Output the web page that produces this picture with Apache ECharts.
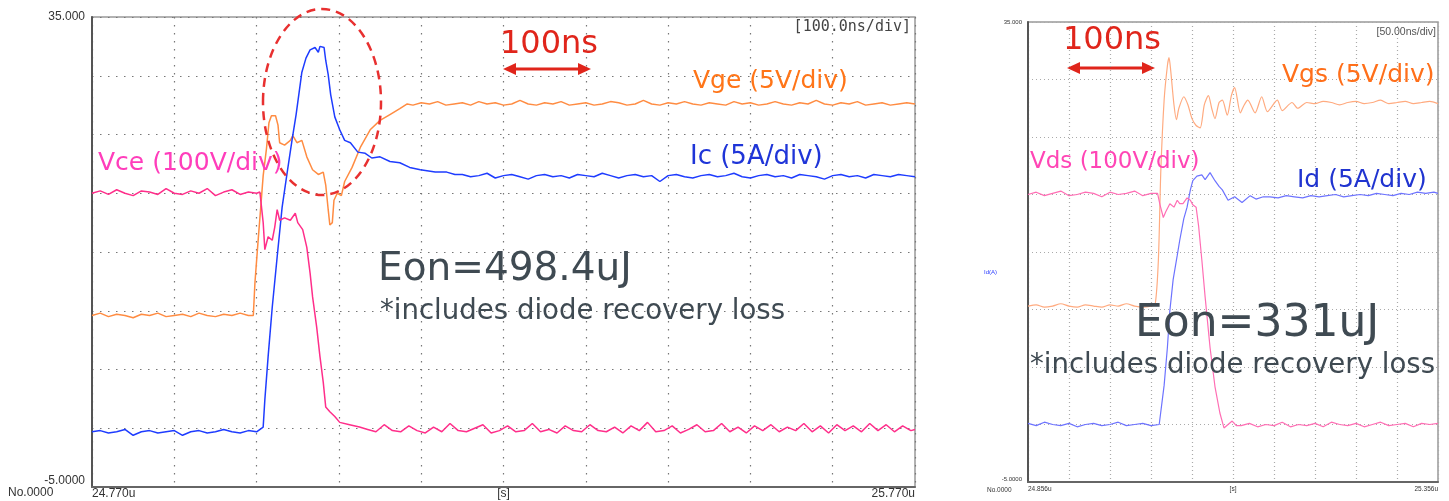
<!DOCTYPE html>
<html>
<head>
<meta charset="utf-8">
<title>Turn-on switching waveforms</title>
<script src="https://cdn.jsdelivr.net/npm/echarts@6.0.0/dist/echarts.min.js"></script>
<style>
  html, body { margin: 0; padding: 0; background: #fff; }
  #main { width: 1449px; height: 501px; }
</style>
</head>
<body>
<div id="main"></div>
<script>
// left scope shot (100ns/div): [ns after 24.770us, value on the 5/div scale]
var vce = [
  [0,20.0],[10,20.2],[20,19.9],[30,20.3],[40,20.0],[50,19.8],[60,20.2],[70,20.1],[80,19.9],[90,20.4],
  [100,20.0],[110,19.9],[120,20.2],[130,20.0],[140,20.4],[150,19.8],[160,20.1],[170,20.3],[180,19.9],[190,20.1],
  [200,20.0],[204,20.1],[208,17.5],[210,15.2],[214,16.3],[219,16.0],[222,17.1],[225,18.6],[228,17.7],[234,17.9],
  [241,17.7],[247,18.3],[250,17.5],[256,16.9],[261,15.4],[265,13.2],[268,11.2],[273,8.6],[277,6.1],[281,3.9],
  [284,1.8],[289,1.4],[295,1.0],[301,0.5],[313,0.3],[325,0.1],
  [335,-0.1],[345,-0.3],[355,0.3],[365,-0.2],[375,-0.3],[385,0.2],[395,-0.2],[405,-0.4],[415,0.1],[425,-0.3],
  [435,0.4],[445,-0.2],[455,-0.3],[465,0.0],[475,0.3],[485,-0.4],[495,-0.2],[505,0.2],[515,-0.3],[525,-0.2],
  [535,0.4],[545,-0.3],[555,-0.1],[565,-0.4],[575,0.2],[585,-0.2],[595,-0.3],[605,0.3],[615,-0.2],[625,-0.3],
  [635,0.1],[645,-0.4],[655,0.2],[665,-0.2],[675,0.5],[685,-0.3],[695,-0.2],[705,0.2],[715,-0.4],[725,-0.1],
  [735,0.3],[745,-0.3],[755,-0.2],[765,0.4],[775,-0.3],[785,0.1],[795,-0.4],[805,0.2],[815,-0.2],[825,0.3],
  [835,-0.3],[845,0.1],[855,-0.2],[865,0.4],[875,-0.3],[885,0.2],[895,-0.4],[905,0.3],[915,-0.2],[925,0.2],
  [935,-0.3],[945,0.4],[955,-0.2],[965,0.3],[975,-0.3],[985,0.2],[995,-0.2],[1000,-0.1]
];
var vge = [
  [0,9.6],[10,9.8],[20,9.5],[30,9.7],[40,9.6],[50,9.4],[60,9.7],[70,9.6],[80,9.8],[90,9.5],
  [100,9.6],[110,9.7],[120,9.5],[130,9.8],[140,9.6],[150,9.5],[160,9.7],[170,9.6],[180,9.8],[190,9.6],
  [196,9.6],[198,12.4],[201,15.2],[205,18.8],[208,21.5],[212,23.8],[215,26.0],[218,26.6],[223,26.6],[226,25.8],
  [228,24.3],[234,24.1],[241,24.5],[244,24.9],[249,24.3],[255,24.5],[261,23.1],[268,22.0],[275,21.6],[281,21.8],
  [284,20.7],[287,18.6],[289,17.3],[292,17.5],[294,19.4],[298,20.0],[303,19.8],[307,21.0],[316,22.2],[326,23.9],
  [338,25.4],[350,26.2],[362,26.7],[374,27.2],[383,27.6],
  [390,27.5],[400,27.7],[410,27.6],[420,27.8],[430,27.5],[440,27.6],[450,27.7],[460,27.5],[470,27.8],[480,27.6],
  [490,27.7],[500,27.5],[510,27.6],[520,27.9],[530,27.6],[540,27.5],[550,27.7],[560,27.6],[570,27.8],[580,27.5],
  [590,27.6],[600,27.7],[610,27.5],[620,27.6],[630,27.8],[640,27.7],[650,27.5],[660,27.6],[670,27.9],[680,27.6],
  [690,27.5],[700,27.7],[710,27.6],[720,27.8],[730,27.6],[740,27.5],[750,27.7],[760,27.6],[770,27.5],[780,27.8],
  [790,27.6],[800,27.7],[810,27.5],[820,27.6],[830,27.8],[840,27.6],[850,27.5],[860,27.7],[870,27.6],[880,27.9],
  [890,27.6],[900,27.5],[910,27.7],[920,27.6],[930,27.8],[940,27.5],[950,27.6],[960,27.7],[970,27.5],[980,27.6],
  [990,27.7],[1000,27.6]
];
var ic = [
  [0,-0.3],[10,-0.2],[20,-0.4],[30,-0.3],[40,-0.1],[50,-0.6],[60,-0.3],[70,-0.2],[80,-0.4],[90,-0.3],
  [100,-0.2],[110,-0.6],[120,-0.3],[130,-0.2],[140,-0.4],[150,-0.3],[160,-0.1],[170,-0.3],[180,-0.4],[190,-0.2],
  [200,-0.3],[208,0.1],[210,2.4],[214,6.1],[219,10.3],[225,14.6],[231,18.8],[237,21.7],[243,24.5],[248,26.7],
  [255,30.3],[260,31.5],[265,32.2],[271,32.4],[275,32.0],[277,32.5],[282,32.4],[284,31.3],[287,30.1],[290,28.4],
  [295,26.5],[301,25.4],[307,24.5],[314,24.3],[323,23.5],[332,23.4],[340,23.0],[350,23.1],[362,22.7],[374,22.6],
  [386,22.2],[399,22.0],[417,21.8],[431,21.8],[441,21.6],
  [450,21.6],[460,21.4],[470,21.5],[480,21.7],[490,21.3],[500,21.5],[510,21.6],[520,21.4],[530,21.2],[540,21.5],
  [550,21.6],[560,21.4],[570,21.5],[580,21.3],[590,21.6],[600,21.5],[610,21.4],[620,21.7],[630,21.5],[640,21.3],
  [650,21.5],[660,21.6],[670,21.4],[680,21.5],[690,21.0],[700,21.5],[710,21.6],[720,21.4],[730,21.3],[740,21.5],
  [750,21.6],[760,21.4],[770,21.5],[780,21.7],[790,21.4],[800,21.3],[810,21.5],[820,21.6],[830,21.4],[840,21.5],
  [850,21.3],[860,21.6],[870,21.5],[880,21.4],[890,21.2],[900,21.5],[910,21.6],[920,21.4],[930,21.5],[940,21.3],
  [950,21.6],[960,21.5],[970,21.4],[980,21.6],[990,21.5],[1000,21.4]
];

// right scope shot (50ns/div): [ns after 24.856us, value on the 5/div scale]
var vds = [
  [0,20.0],[10,20.2],[20,19.9],[30,20.1],[40,20.3],[50,19.9],[60,20.0],[70,20.2],[80,20.1],[90,19.8],
  [100,20.2],[110,20.0],[120,20.1],[130,20.3],[140,19.9],[150,20.1],[158,20.1],[161,19.1],[165,18.0],[168,18.5],
  [173,19.2],[178,18.9],[182,19.5],[185,19.2],[189,19.2],[194,19.7],[198,19.5],[201,19.1],[205,18.9],[208,17.3],
  [212,14.3],[216,11.1],[222,6.7],[228,3.3],[234,1.0],[239,-0.3],[244,0.0],[249,0.3],[254,-0.1],
  [260,-0.1],[270,0.1],[280,-0.2],[290,0.0],[300,-0.1],[310,0.2],[320,-0.2],[330,0.0],[340,-0.1],[350,0.1],
  [360,-0.2],[370,0.2],[380,0.0],[390,-0.1],[400,0.1],[410,-0.2],[420,0.0],[430,0.2],[440,-0.1],[450,0.0],
  [460,0.1],[470,-0.2],[480,0.1],[490,0.0],[500,0.1]
];
var vgs = [
  [0,10.3],[10,10.4],[20,10.2],[30,10.3],[40,10.5],[50,10.3],[60,10.2],[70,10.4],[80,10.3],[90,10.2],
  [100,10.4],[110,10.3],[120,10.5],[130,10.3],[140,10.2],[150,10.3],[155,10.4],[159,14.3],[162,22.1],[166,28.2],
  [170,31.2],[172,31.9],[174,30.8],[178,27.8],[181,26.5],[184,27.5],[190,28.5],[195,27.8],[200,26.6],[205,26.0],
  [210,25.8],[215,27.8],[220,28.6],[224,27.5],[228,26.6],[233,28.0],[237,28.2],[243,26.9],[248,28.6],[252,29.3],
  [259,27.1],[263,27.7],[268,28.2],[277,27.1],[285,28.5],[292,27.2],[304,28.2],[310,27.3],[322,28.0],[329,27.5],
  [340,28.0],[350,27.9],[360,28.1],[370,28.0],[380,27.8],[390,28.0],[400,28.1],[410,27.9],[420,28.0],[430,28.2],
  [440,27.9],[450,28.0],[460,28.1],[470,27.9],[480,28.0],[490,28.1],[500,27.9]
];
var id = [
  [0,0.1],[10,-0.1],[20,0.2],[30,0.0],[40,-0.1],[50,0.1],[60,-0.2],[70,0.0],[80,0.1],[90,-0.1],
  [100,0.0],[110,0.2],[120,-0.1],[130,0.0],[140,0.1],[150,-0.1],[160,0.0],[162,0.1],[166,3.4],[170,6.7],
  [173,9.9],[177,12.6],[182,14.7],[185,16.0],[190,17.9],[194,18.9],[198,20.4],[201,21.2],[206,21.6],[212,21.7],
  [216,21.3],[222,21.9],[228,21.2],[233,20.7],[237,20.4],[244,19.5],[252,19.8],[261,19.3],[271,19.9],[278,19.6],
  [287,19.8],[295,19.8],[305,19.7],[315,19.9],[325,19.8],[335,19.7],[345,19.9],[355,19.8],[365,19.9],[375,20.0],
  [385,19.8],[395,19.9],[405,20.0],[415,19.9],[425,20.1],[435,20.0],[445,19.9],[455,20.1],[465,20.0],[475,20.2],
  [485,20.1],[495,20.2],[500,20.1]
];

// tick labels
var leftXLabels = ['24.770u', '[s]', '25.770u'];
var rightXLabels = ['24.856u', '[s]', '25.356u'];
var yLabels = ['35.000', '-5.0000'];

var chart = echarts.init(document.getElementById('main'));

function gridLine(grid) {
  return { show: true, lineStyle: { color: grid === 0 ? '#777' : '#aaa', width: 1.2, type: grid === 0 ? [1.5, 6.5] : [1, 3] } };
}

function xAxisFor(grid, span, labels, fontSize, margin) {
  return {
    type: 'value', gridIndex: grid, min: 0, max: span, interval: span / 10,
    axisLine: { show: true, onZero: false, lineStyle: { color: '#666', width: 2 } },
    axisTick: { show: false },
    splitLine: gridLine(grid),
    axisLabel: {
      color: '#333', fontSize: fontSize, fontFamily: 'Liberation Sans', margin: margin,
      alignMinLabel: 'left', alignMaxLabel: 'right',
      formatter: function (v) {
        if (v === 0) return labels[0];
        if (v === span / 2) return labels[1];
        if (v === span) return labels[2];
        return '';
      }
    }
  };
}

function yAxisFor(grid, fontSize, margin) {
  return {
    type: 'value', gridIndex: grid, min: -5, max: 35, interval: 5,
    axisLine: { show: true, onZero: false, lineStyle: { color: '#555', width: 2 } },
    axisTick: { show: false },
    splitLine: gridLine(grid),
    axisLabel: {
      color: '#333', fontSize: fontSize, fontFamily: 'Liberation Sans', margin: margin,
      verticalAlignMinLabel: 'bottom',
      formatter: function (v) {
        if (v === 35) return yLabels[0];
        if (v === -5) return yLabels[1];
        return '';
      }
    }
  };
}

function trace(name, data, grid, color, width, smooth) {
  return {
    name: name, type: 'line', data: data, xAxisIndex: grid, yAxisIndex: grid,
    showSymbol: false, symbol: 'none', smooth: smooth || false,
    lineStyle: { color: color, width: width },
    z: 3
  };
}

function label(text, x, y, color, size, align, family) {
  return {
    type: 'text', x: x, y: y, z: 100,
    style: {
      text: text, fill: color, textAlign: align || 'left', textVerticalAlign: 'middle',
      font: size + 'px "' + (family || 'DejaVu Sans') + '"'
    }
  };
}

function arrow(x1, x2, y) {
  return {
    type: 'group', z: 100,
    children: [
      { type: 'line', shape: { x1: x1 + 8, y1: y, x2: x2 - 8, y2: y }, style: { stroke: '#e0251b', lineWidth: 3 } },
      { type: 'polygon', shape: { points: [[x1, y], [x1 + 13, y - 6], [x1 + 13, y + 6]] }, style: { fill: '#e0251b' } },
      { type: 'polygon', shape: { points: [[x2, y], [x2 - 13, y - 6], [x2 - 13, y + 6]] }, style: { fill: '#e0251b' } }
    ]
  };
}

var option = {
  animation: false,
  backgroundColor: '#fff',
  grid: [
    { left: 92, top: 17, width: 823, height: 470, show: true, borderColor: '#999', borderWidth: 1.5 },
    { left: 1028, top: 22, width: 410, height: 460, show: true, borderColor: '#999', borderWidth: 1.5 }
  ],
  xAxis: [xAxisFor(0, 1000, leftXLabels, 12, 1), xAxisFor(1, 500, rightXLabels, 6.5, 4)],
  yAxis: [yAxisFor(0, 12, 7), yAxisFor(1, 6, 6)],
  series: [
    trace('Vge', vge, 0, '#ff8c42', 1.5),
    trace('Ic', ic, 0, '#1e3cff', 1.5),
    trace('Vce', vce, 0, '#ff2e8a', 1.5),
    trace('Vgs', vgs, 1, '#ffab80', 1.2, 0.25),
    trace('Id', id, 1, '#6d73ff', 1.2),
    trace('Vds', vds, 1, '#ff6eb4', 1.2)
  ],
  graphic: [
    // left panel notes
    { type: 'ellipse', z: 100, shape: { cx: 322, cy: 102, rx: 59, ry: 93 },
      style: { fill: null, stroke: '#e83030', lineWidth: 2.5, lineDash: [9, 6] } },
    label('100ns', 500, 45, '#e0251b', 32),
    arrow(503, 591, 69),
    label('Vge (5V/div)', 693, 81, '#ff7518', 25),
    label('Ic (5A/div)', 690, 157, '#1f35d8', 26),
    label('Vce (100V/div)', 98, 163, '#ff3dbb', 25),
    label('Eon=498.4uJ', 378, 270, '#3f4a52', 39),
    label('*includes diode recovery loss', 380, 312, '#3f4a52', 27.6),
    label('[100.0ns/div]', 911, 27, '#444', 15, 'right', 'DejaVu Sans Mono'),
    label('No.0000', 8, 493, '#333', 12, 'left', 'Liberation Sans'),
    // right panel notes
    label('100ns', 1063, 41, '#e0251b', 32),
    arrow(1067, 1155, 68),
    label('Vgs (5V/div)', 1282, 75, '#ff6f1a', 25),
    label('Vds (100V/div)', 1030, 162, '#ff45b5', 23),
    label('Id (5A/div)', 1297, 180, '#2034d0', 25),
    label('Eon=331uJ', 1135, 325, '#3f4a52', 44),
    label('*includes diode recovery loss', 1030, 366, '#3f4a52', 27.6),
    label('[50.00ns/div]', 1436, 32, '#555', 10.5, 'right', 'Liberation Sans'),
    label('No.0000', 987, 490, '#333', 6.5, 'left', 'Liberation Sans'),
    label('Id(A)', 984, 272, '#2a3cff', 6, 'left', 'Liberation Sans')
  ]
};

chart.setOption(option);
</script>
</body>
</html>
